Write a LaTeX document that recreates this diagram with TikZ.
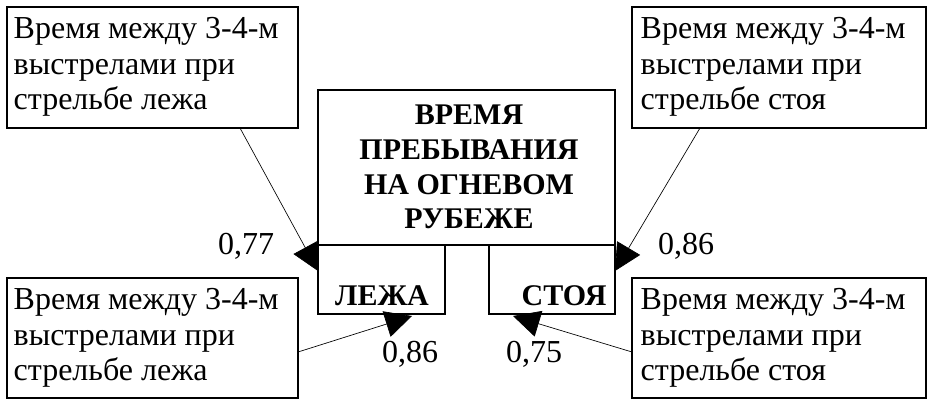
\documentclass[tikz,border=0pt]{standalone}
\usepackage{fontspec}
\setmainfont{Liberation Serif}
\usetikzlibrary{arrows.meta}
\begin{document}
\begin{tikzpicture}[x=0.75pt,y=-0.75pt,
  box/.style={draw,line width=0.8pt,inner sep=0pt},
  txt/.style={font=\fontsize{24}{26.5}\selectfont,align=left,anchor=west},
  arr/.style={line width=0.5pt,-{Triangle[length=20pt,width=20pt]}},
  num/.style={font=\fontsize{24}{28}\selectfont},
  hd/.style={font=\fontsize{22.5}{26}\bfseries\selectfont,align=center}]
\useasboundingbox (0,0) rectangle (934,410);
\draw[box] (7,7) rectangle (298,128);
\draw[box] (632,7) rectangle (926,128);
\draw[box] (7,278) rectangle (298,398);
\draw[box] (632,278) rectangle (926,398);
\draw[box] (318,90) rectangle (615,245);
\draw[box] (318,245) rectangle (445,314);
\draw[box] (489,245) rectangle (615,314);
\node[txt] (tl) at (9,67) {Время между 3-4-м\\выстрелами при\\стрельбе лежа};
\node[txt] (tr) at (636,67) {Время между 3-4-м\\выстрелами при\\стрельбе стоя};
\node[txt] (bl) at (9,338) {Время между 3-4-м\\выстрелами при\\стрельбе лежа};
\node[txt] (br) at (636,338) {Время между 3-4-м\\выстрелами при\\стрельбе стоя};
\node[hd] (main) at (469,167) {ВРЕМЯ\\ПРЕБЫВАНИЯ\\НА ОГНЕВОМ\\РУБЕЖЕ};
\node[hd] (lz) at (382,296) {ЛЕЖА};
\node[hd] (st) at (564,296) {СТОЯ};
\coordinate (a1) at (240,128); \coordinate (b1) at (318,271);
\coordinate (a2) at (700,128); \coordinate (b2) at (615,271);
\coordinate (a3) at (298,352); \coordinate (b3) at (412,316);
\coordinate (a4) at (632,352); \coordinate (b4) at (513,316);
\draw[arr] (a1) -- (b1);
\draw[arr] (a2) -- (b2);
\draw[arr] (a3) -- (b3);
\draw[arr] (a4) -- (b4);
\node[num] (n1) at (246,246) {0,77};
\node[num] (n2) at (686,246) {0,86};
\node[num] (n3) at (410,354) {0,86};
\node[num] (n4) at (534,354) {0,75};
\end{tikzpicture}
\end{document}
